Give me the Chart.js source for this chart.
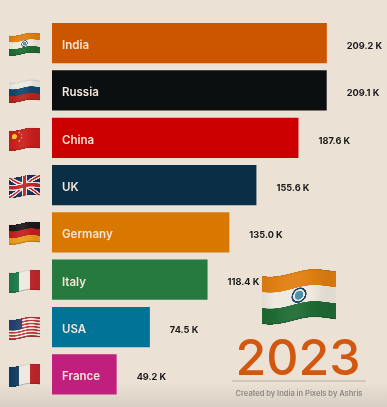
<!DOCTYPE html>
<html>
<head>
<meta charset="utf-8">
<title>2023</title>
<script src="https://cdn.jsdelivr.net/npm/chart.js@4"></script>
<style>
  html, body { margin: 0; padding: 0; background: #ebe1d5; }
  body { height: 407px; background: linear-gradient(to bottom, #ebe1d5 0, #ebe1d5 382px, #d8cfc4 407px); }
  canvas { display: block; }
</style>
</head>
<body>
<canvas id="myChart" width="387" height="407"></canvas>
<script>
var categories = ['India', 'Russia', 'China', 'UK', 'Germany', 'Italy', 'USA', 'France'];
var values = [209.2, 209.1, 187.6, 155.6, 135.0, 118.4, 74.5, 49.2];
var barColors = ['#cc5500', '#0c0f0f', '#cc0000', '#0a2e45', '#d97800', '#26793f', '#007396', '#c01f7d'];
var year = '2023';
var credit = 'Created by India in Pixels by Ashris';

// flat artwork of each flag, gets waved afterwards
function paintFlag(c, name, w, h) {
  function hbands(cols) { cols.forEach(function (col, i) { c.fillStyle = col; c.fillRect(0, i * h / cols.length, w, h / cols.length + 1); }); }
  function vbands(cols) { cols.forEach(function (col, i) { c.fillStyle = col; c.fillRect(i * w / cols.length, 0, w / cols.length + 1, h); }); }
  if (name === 'India') {
    hbands(['#e07f12', '#efe9df', '#1f6b34']);
    c.strokeStyle = '#14405f';
    c.lineWidth = h * 0.035;
    c.beginPath(); c.arc(w / 2, h / 2, h * 0.14, 0, Math.PI * 2); c.stroke();
    c.fillStyle = '#3f8fa8';
    c.beginPath(); c.arc(w / 2, h / 2, h * 0.09, 0, Math.PI * 2); c.fill();
  } else if (name === 'Russia') {
    hbands(['#ece8e2', '#14476b', '#b5261e']);
  } else if (name === 'China') {
    hbands(['#c8201c']);
    c.fillStyle = '#f2c230';
    c.beginPath(); c.arc(w * 0.17, h * 0.3, h * 0.13, 0, Math.PI * 2); c.fill();
    [[0.33, 0.13], [0.4, 0.26], [0.4, 0.42], [0.33, 0.55]].forEach(function (p) {
      c.beginPath(); c.arc(w * p[0], h * p[1], h * 0.04, 0, Math.PI * 2); c.fill();
    });
  } else if (name === 'UK') {
    hbands(['#1b2f58']);
    c.strokeStyle = '#efe9e2'; c.lineWidth = h * 0.2;
    c.beginPath(); c.moveTo(0, 0); c.lineTo(w, h); c.moveTo(w, 0); c.lineTo(0, h); c.stroke();
    c.strokeStyle = '#c0272d'; c.lineWidth = h * 0.07;
    c.beginPath(); c.moveTo(0, 0); c.lineTo(w, h); c.moveTo(w, 0); c.lineTo(0, h); c.stroke();
    c.fillStyle = '#efe9e2';
    c.fillRect(w * 0.41, 0, w * 0.18, h); c.fillRect(0, h * 0.35, w, h * 0.3);
    c.fillStyle = '#c0272d';
    c.fillRect(w * 0.45, 0, w * 0.1, h); c.fillRect(0, h * 0.41, w, h * 0.18);
  } else if (name === 'Germany') {
    hbands(['#1c1a1a', '#c0211f', '#e89b1c']);
  } else if (name === 'Italy') {
    vbands(['#1f7a4d', '#efe9e0', '#c2282c']);
  } else if (name === 'USA') {
    for (var i = 0; i < 13; i++) { c.fillStyle = i % 2 ? '#efe9e2' : '#bf3a3a'; c.fillRect(0, i * h / 13, w, h / 13 + 1); }
    c.fillStyle = '#27406f'; c.fillRect(0, 0, w * 0.42, h * 0.54);
  } else if (name === 'France') {
    vbands(['#123f63', '#efe9e0', '#c0272d']);
  }
}

// slice the flat flag in columns and shift them for the wave
function drawFlag(ctx, name, x, y, w, h) {
  var art = document.createElement('canvas');
  art.width = w * 3; art.height = h * 3;
  paintFlag(art.getContext('2d'), name, art.width, art.height);
  var amp = h * 0.05;
  for (var col = 0; col < w; col++) {
    var t = col / w;
    var dy = amp * Math.sin(t * Math.PI * 2 + 0.6) - h * 0.1 * t;
    var top = y + h * 0.1 + dy;
    ctx.drawImage(art, col * 3, 0, 3, art.height, x + col, top, 1, h);
    var shade = 0.06 * Math.cos(t * Math.PI * 2 + 0.6);
    ctx.fillStyle = shade > 0 ? 'rgba(0,0,0,' + shade + ')' : 'rgba(255,255,255,' + (-shade) + ')';
    ctx.fillRect(x + col, top, 1, h);
    // soft dark rim, keeps the white parts apart from the page
    ctx.fillStyle = 'rgba(40,40,40,0.3)';
    ctx.fillRect(x + col, top + h - 1, 1, 1);
    ctx.fillStyle = 'rgba(40,40,40,0.12)';
    ctx.fillRect(x + col, top, 1, 1);
  }
}

var overlay = {
  id: 'overlay',
  afterDatasetsDraw: function (chart) {
    var ctx = chart.ctx, xs = chart.scales.x, ys = chart.scales.y;
    ctx.save();
    ctx.textBaseline = 'middle';
    categories.forEach(function (name, i) {
      var cy = ys.getPixelForValue(i);
      drawFlag(ctx, name, 9, Math.round(cy) - 10, 31, 20);
      ctx.textAlign = 'left';
      ctx.fillStyle = '#f3e6d8';
      ctx.font = '600 11.5px Inter';
      ctx.fillText(name, xs.getPixelForValue(0) + 10, cy + 2.5);
      ctx.fillStyle = '#1a1a1a';
      ctx.font = '700 9.2px Inter';
      ctx.fillText(values[i].toFixed(1) + ' K', xs.getPixelForValue(values[i]) + 20, cy + 3);
    });

    drawFlag(ctx, 'India', 262, 270, 74, 48);

    ctx.textAlign = 'center';
    ctx.fillStyle = '#d2570f';
    ctx.font = '500 50px Inter';
    ctx.fillText(year, 298, 360);
    ctx.fillStyle = '#cfc7bc';
    ctx.fillRect(232, 380, 134, 2);
    ctx.fillStyle = '#8e8a84';
    ctx.font = '600 7.5px Inter';
    ctx.fillText(credit, 299, 394);
    ctx.restore();
  }
};

var ctx = document.getElementById('myChart').getContext('2d');
var chart = new Chart(ctx, {
  type: 'bar',
  data: {
    labels: categories,
    datasets: [{
      data: values,
      backgroundColor: barColors,
      borderWidth: 0,
      barPercentage: 0.85,
      categoryPercentage: 1
    }]
  },
  options: {
    indexAxis: 'y',
    responsive: false,
    animation: false,
    layout: { padding: { left: 52, top: 19.5, bottom: 9 } },
    plugins: { legend: { display: false }, tooltip: { enabled: false } },
    scales: {
      x: { display: false, min: 0, max: 255 },
      y: { display: false }
    }
  },
  plugins: [overlay]
});
</script>
</body>
</html>
